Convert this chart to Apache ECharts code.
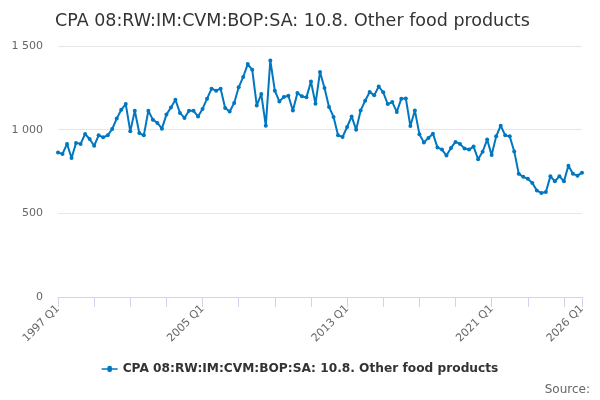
<!DOCTYPE html>
<html><head><meta charset="utf-8">
<script src="https://cdn.jsdelivr.net/npm/echarts@6/dist/echarts.min.js"></script>
<style>html,body{margin:0;padding:0;background:#fff}#c{width:600px;height:400px}</style>
</head><body><div id="c"></div>
<script>
const titleText = 'CPA 08:RW:IM:CVM:BOP:SA: 10.8. Other food products';
const seriesName = 'CPA 08:RW:IM:CVM:BOP:SA: 10.8. Other food products';
const startYear = 1997;
const endYear = 2026;
const values = [
 864, 855, 915, 831, 921, 915, 974, 944, 904, 966, 954, 966, 1004, 1066, 1119, 1153,
 990, 1113, 980, 966, 1113, 1060, 1040, 1006, 1090, 1133, 1179, 1100, 1070, 1113, 1113, 1079,
 1124, 1185, 1245, 1233, 1245, 1130, 1109, 1159, 1253, 1315, 1392, 1358, 1145, 1213, 1024, 1414,
 1233, 1169, 1195, 1203, 1115, 1219, 1199, 1193, 1288, 1155, 1344, 1249, 1136, 1076, 966, 956,
 1016, 1079, 1000, 1115, 1173, 1225, 1205, 1258, 1223, 1153, 1165, 1106, 1185, 1187, 1022, 1115,
 973, 924, 950, 976, 894, 881, 845, 891, 927, 915, 887, 881, 899, 823, 868, 941,
 848, 960, 1024, 966, 960, 870, 736, 718, 706, 682, 636, 622, 628, 721, 692, 721,
 692, 785, 736, 725, 743
];
const categories = [];
for (let y = startYear; y <= endYear; y++) for (let q = 1; q <= 4; q++) categories.push(y + ' Q' + q);
categories.length = values.length;
const lastIdx = categories.length - 1;
const yTicks = [0, 500, 1000, 1500];

const chart = echarts.init(document.getElementById('c'), null, {renderer: 'canvas'});
const F = 'DejaVu Sans, Verdana, sans-serif';
chart.setOption({
  animation: false,
  textStyle: {fontFamily: F},
  title: {text: titleText, left: 50, top: 7,
    textStyle: {fontSize: 17.5, fontWeight: 'normal', color: '#333', fontFamily: F}},
  grid: {left: 58, right: 18, top: 46, bottom: 103, containLabel: false},
  legend: {bottom: 20, left: 'center', itemWidth: 16, itemHeight: 8, itemGap: 5,
    icon: 'path://M0,3.2 L5.6,3.2 A2.4,2.4 0 0 1 10.4,3.2 L16,3.2 L16,4.8 L10.4,4.8 A2.4,2.4 0 0 1 5.6,4.8 L0,4.8 Z',
    textStyle: {fontSize: 12.2, fontWeight: 'bold', color: '#333', fontFamily: F},
    data: [seriesName]},
  graphic: [{type: 'text', right: 10, bottom: 4,
    style: {text: 'Source:', fontSize: 12, fill: '#666', fontFamily: F}}],
  xAxis: {type: 'category', data: categories, boundaryGap: false,
    axisLine: {lineStyle: {color: '#ccd6eb'}},
    axisTick: {length: 10, lineStyle: {color: '#ccd6eb'},
      interval: (i) => i % 8 === 0 || i === lastIdx},
    axisLabel: {rotate: 45, fontSize: 11, color: '#666', margin: 10,
      interval: (i) => i % 32 === 0 || i === lastIdx},
    splitLine: {show: false}},
  yAxis: {type: 'value', min: yTicks[0], max: yTicks[yTicks.length - 1], interval: 500,
    axisLine: {show: false}, axisTick: {show: false},
    axisLabel: {fontSize: 11, color: '#666', margin: 15,
      formatter: (v) => String(v).replace(/\B(?=(\d{3})+(?!\d))/g, ' ')},
    splitLine: {lineStyle: {color: '#e6e6e6'}}},
  series: [{name: seriesName, type: 'line', data: values,
    symbol: 'circle', symbolSize: 4, showSymbol: true, showAllSymbol: true,
    itemStyle: {color: '#0077c0'},
    lineStyle: {width: 2, color: '#0077c0'}}]
});
</script></body></html>
